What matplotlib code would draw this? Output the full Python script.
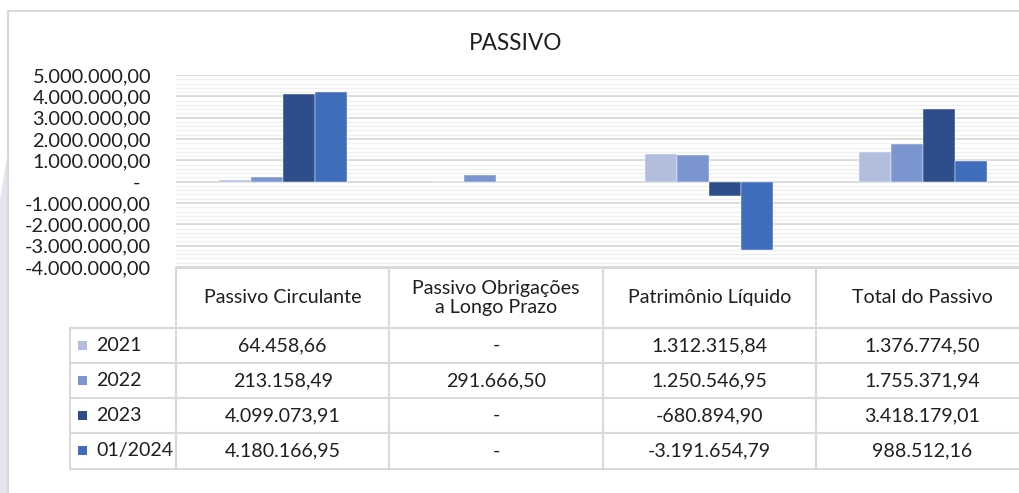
import matplotlib
matplotlib.use("Agg")
import matplotlib.pyplot as plt
from matplotlib.patches import Rectangle, Polygon
from matplotlib.ticker import MultipleLocator, FixedLocator

plt.rcParams['font.family'] = ['Lato', 'DejaVu Sans']

# ---- data ----
categories = ["Passivo Circulante", "Passivo Obrigações\na Longo Prazo",
              "Patrimônio Líquido", "Total do Passivo"]
series_names = ["2021", "2022", "2023", "01/2024"]
v2021 = [64458.66, 0.0, 1312315.84, 1376774.50]
v2022 = [213158.49, 291666.50, 1250546.95, 1755371.94]
v2023 = [4099073.91, 0.0, -680894.90, 3418179.01]
v2024 = [4180166.95, 0.0, -3191654.79, 988512.16]
series_values = [v2021, v2022, v2023, v2024]
colors = ["#b3bedf", "#7b95d1", "#2d4e8a", "#406dbb"]
yticks = [-4e6, -3e6, -2e6, -1e6, 0, 1e6, 2e6, 3e6, 4e6, 5e6]


def fmt_br(v):
    if v == 0:
        return "-"
    s = f"{abs(v):,.2f}".replace(",", "X").replace(".", ",").replace("X", ".")
    return ("-" if v < 0 else "") + s


W, H = 1019, 493
fig = plt.figure(figsize=(W / 100, H / 100), dpi=100)
fig.patch.set_facecolor("white")
txt_color = "#1f1f1f"

# left lavender strip + chart border
fig.add_artist(Polygon([(0, 0), (8 / W, 0), (8 / W, (H - 150) / H), (0, (H - 200) / H)],
                       closed=True, transform=fig.transFigure, facecolor="#e4e4ef",
                       edgecolor="none", zorder=0))
fig.add_artist(plt.Line2D([8 / W, 8 / W], [0, (H - 11) / H], transform=fig.transFigure,
                          color="#d9d9d9", lw=1.5))
fig.add_artist(plt.Line2D([8 / W, 1], [(H - 11) / H, (H - 11) / H], transform=fig.transFigure,
                          color="#d9d9d9", lw=1.5))

colw = 213.3
left_px = 176
ax = fig.add_axes([left_px / W, (H - 267) / H, 4 * colw / W, (267 - 75) / H])
n = len(series_values)
bw = 0.15
x = list(range(len(categories)))
for i, (vals, c) in enumerate(zip(series_values, colors)):
    off = (i - (n - 1) / 2) * bw
    ax.bar([xx + off for xx in x], vals, width=bw, color=c, edgecolor="white",
           linewidth=0.3, zorder=3)

ax.set_xlim(-0.5, len(categories) - 0.5)
ax.set_ylim(-4e6, 5e6)
ax.yaxis.set_major_locator(FixedLocator(yticks))
ax.yaxis.set_minor_locator(MultipleLocator(2e5))
ax.set_yticklabels([fmt_br(t) + ("  " if t == 0 else "") for t in yticks])
ax.grid(True, which="major", axis="y", color="#d9d9d9", lw=1.3, zorder=0)
ax.grid(True, which="minor", axis="y", color="#f0f0f0", lw=1.0, zorder=0)
ax.set_xticks([])
ax.tick_params(axis="y", which="both", length=0, pad=18, labelsize=14.4, labelcolor=txt_color)
for s in ax.spines.values():
    s.set_visible(False)
ax.set_facecolor("none")

fig.text(516 / W, (H - 44) / H, "PASSIVO", ha="center", va="center", fontsize=16.3,
         color=txt_color)

# ---- data table ----
tab = fig.add_axes([left_px / W, (H - 469) / H, 4 * colw / W, (469 - 268) / H])
tab.set_xlim(-0.5, len(categories) - 0.5)
tab.set_ylim(469, 268)
tab.axis("off")
lc = "#d9d9d9"
lw = 1.5
fs = 14.1
leg_left = -0.5 - (176 - 70) / colw
row_y = [328, 363, 398, 433, 469]
# horizontal lines
tab.plot([-0.5, 3.6], [268, 268], color=lc, lw=lw, clip_on=False)
for yy in row_y:
    tab.plot([leg_left, 3.6], [yy, yy], color=lc, lw=lw, clip_on=False)
# vertical lines
for xx in [-0.5, 0.5, 1.5, 2.5]:
    tab.plot([xx, xx], [268, 469], color=lc, lw=lw, clip_on=False)
tab.plot([leg_left, leg_left], [328, 469], color=lc, lw=lw, clip_on=False)

for j, cat in enumerate(categories):
    tab.text(j, 298, cat, ha="center", va="center", fontsize=fs, color=txt_color,
             linespacing=1.2)
for i, (name, vals, c) in enumerate(zip(series_names, series_values, colors)):
    yc = (row_y[i] + row_y[i + 1]) / 2
    tab.add_patch(Rectangle((leg_left + 8 / colw, yc - 4.5), 9 / colw, 9,
                            facecolor=c, edgecolor="none", clip_on=False))
    tab.text(leg_left + 26 / colw, yc, name, ha="left", va="center", fontsize=fs,
             color=txt_color, clip_on=False)
    for j, v in enumerate(vals):
        tab.text(j, yc, fmt_br(v), ha="center", va="center", fontsize=fs,
                 color=txt_color)

fig.savefig("out.png", dpi=100)
